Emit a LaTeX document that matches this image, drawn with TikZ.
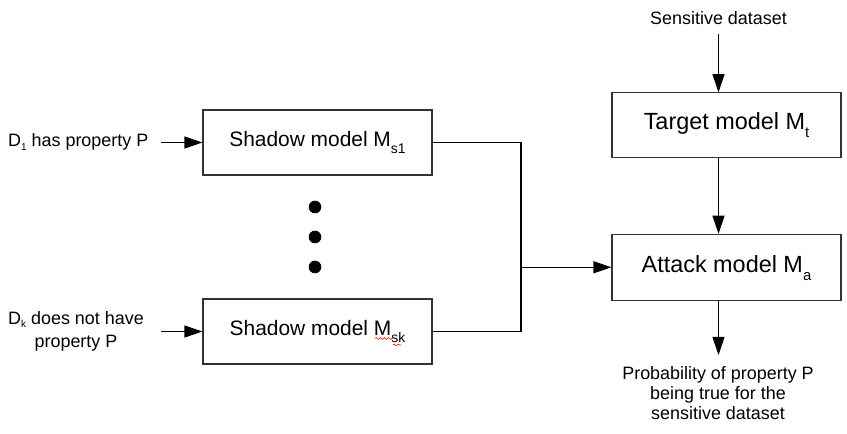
\documentclass[tikz,border=0pt]{standalone}
\usepackage{fontspec}
\setmainfont{Liberation Sans}
\usetikzlibrary{arrows.meta,decorations.pathmorphing}
\newcommand\subtxt[3]{\raisebox{-#2bp}{\fontsize{#1}{#1}\selectfont #3}}
\begin{document}
\begin{tikzpicture}[x=1bp,y=-1bp,
  box/.style={draw=black!80,line width=1.1bp,minimum width=229bp,minimum height=65bp,inner sep=0pt,font=\fontsize{21}{25}\selectfont,text depth=0pt},
  lbl/.style={inner sep=0pt,font=\fontsize{18}{20}\selectfont,align=center},
  conn/.style={line width=1.1bp,draw=black},
  arr/.style={conn,-{Triangle[length=18bp,width=12bp]}},
  dot/.style={circle,fill=black,inner sep=0pt,minimum size=12.6bp},
  squig/.style={draw=red,line width=0.6bp,decorate,decoration={snake,segment length=4bp,amplitude=1bp}}]
\useasboundingbox (0,0) rectangle (847,434);
% boxes
\node[box,text height=8.4bp] (s1) at (317.5,142.5) {Shadow model M\subtxt{14}{6.6}{s1}};
\node[box,text height=8.4bp] (sk) at (317.5,331.5) {Shadow model M\subtxt{14}{6.6}{sk}};
\node[box,font=\fontsize{23.5}{28}\selectfont,text height=9.4bp] (target) at (726.5,125.3) {Target model M\subtxt{15}{7.3}{t}};
\node[box,minimum height=66bp,font=\fontsize{23.5}{28}\selectfont,text height=11.4bp] (attack) at (726.5,267.3) {Attack model M\subtxt{15}{7.4}{a}};
% labels
\node[lbl,anchor=base west] (d1) at (8,147) {D\subtxt{10}{3.7}{1} has property P};
\node[lbl,anchor=north,font=\fontsize{18}{23}\selectfont] (dk) at (76,311) {D\subtxt{10}{3.7}{k} does not have\\property P};
\node[lbl] (sens) at (718.5,18.5) {Sensitive dataset};
\node[lbl,anchor=north] (prob) at (718,366) {Probability of property P\\being true for the\\sensitive dataset};
% dots
\node[dot] (dot1) at (315,207) {};
\node[dot] (dot2) at (315,237) {};
\node[dot] (dot3) at (315,267) {};
% coordinates
\coordinate (a1) at (161,142.5);
\coordinate (ak) at (161,331.5);
\coordinate (j) at (521,267.3);
% connectors
\draw[arr] (a1) -- (s1.west);
\draw[arr] (ak) -- (sk.west);
\draw[conn] (s1.east) -| (j) |- (sk.east);
\draw[arr] (j) -- (attack.west);
\draw[arr,shorten <=9bp] (sens.south) -- (sens.south |- target.north);
\draw[arr] (sens.south |- target.south) -- (sens.south |- attack.north);
\draw[arr,shorten >=11bp] (sens.south |- attack.south) -- (sens.south |- prob.north);
% spell-check squiggle
\draw[squig] (375,338.5) -- (392.5,338.5);
\draw[squig] (393,345) -- (401,345);
\end{tikzpicture}
\end{document}
